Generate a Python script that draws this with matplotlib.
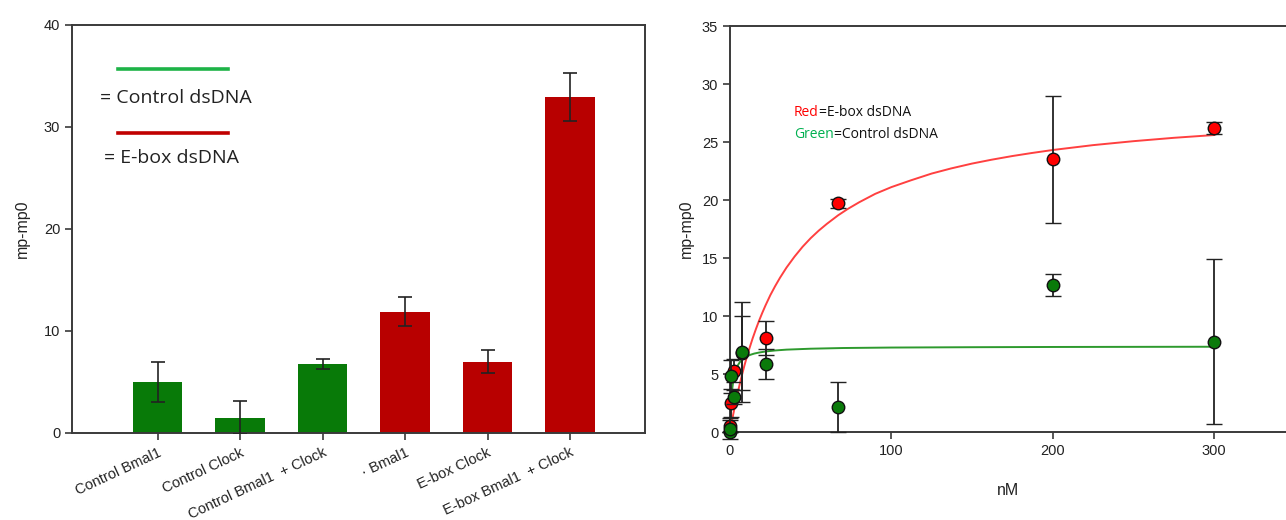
import matplotlib
matplotlib.use("Agg")
import matplotlib.pyplot as plt

# ---------------- data: left bar chart ----------------
bar_labels = ["Control Bmal1", "Control Clock", "Control Bmal1  + Clock",
              "\u00b7 Bmal1", "E-box Clock", "E-box Bmal1  + Clock"]
bar_values = [5.0, 1.5, 6.8, 11.9, 7.0, 32.9]
bar_errors = [2.0, 1.6, 0.5, 1.4, 1.15, 2.35]
bar_groups = ["control", "control", "control", "ebox", "ebox", "ebox"]

# ---------------- data: right binding plot ----------------
ebox_x = [0.27, 0.82, 2.47, 7.4, 22.2, 66.7, 200, 300]
ebox_y = [0.5, 2.5, 5.3, 6.8, 8.1, 19.7, 23.5, 26.2]
ebox_err = [0.5, 1.2, 1.0, 3.2, 1.5, 0.35, 5.45, 0.55]

ctrl_x = [0, 0.27, 0.82, 2.47, 7.4, 22.2, 66.7, 200, 300]
ctrl_y = [0.0, 0.3, 4.8, 3.0, 6.9, 5.85, 2.15, 12.65, 7.8]
ctrl_err = [0.0, 0.9, 1.4, 0.6, 4.3, 1.3, 2.15, 0.95, 7.1]

# fitted curves
ebox_fit_x = [0, 1, 2, 3, 4, 5, 6, 7, 8, 9, 10, 12, 14, 16, 18, 20, 22, 25, 28,
              31, 35, 40, 45, 50, 55, 60, 67, 73, 80, 90, 100, 112, 125, 137,
              150, 162, 175, 187, 200, 225, 250, 275, 300]
ebox_fit_y = [0, 0.78, 1.52, 2.22, 2.88, 3.51, 4.11, 4.69, 5.23, 5.76, 6.26,
              7.19, 8.06, 8.85, 9.59, 10.27, 10.91, 11.80, 12.58, 13.30, 14.17,
              15.12, 15.97, 16.71, 17.36, 17.94, 18.68, 19.23, 19.80, 20.53,
              21.11, 21.69, 22.28, 22.72, 23.14, 23.47, 23.79, 24.05, 24.31,
              24.73, 25.07, 25.36, 25.60]
ctrl_fit_x = [0, 0.25, 0.5, 0.75, 1, 1.5, 2, 2.5, 3, 4, 5, 6, 7, 8.5, 10, 12.5,
              15, 18, 22, 28, 35, 50, 70, 100, 150, 200, 250, 300]
ctrl_fit_y = [0, 1.13, 1.96, 2.60, 3.10, 3.84, 4.37, 4.76, 5.05, 5.49, 5.78,
              6.00, 6.16, 6.35, 6.49, 6.65, 6.76, 6.85, 6.94, 7.03, 7.10, 7.18,
              7.24, 7.28, 7.31, 7.33, 7.34, 7.35]

BAR_GREEN = "#087a08"
BAR_RED = "#b80000"
SPINE = "#3a3a3a"

plt.rcParams['font.family'] = ['Liberation Sans', 'DejaVu Sans']

fig = plt.figure(figsize=(12.86, 5.2), dpi=100)

# ---------------- left panel ----------------
ax1 = fig.add_axes([72/1286, 1-433/520, (645-72)/1286, (433-25)/520])
xs = list(range(len(bar_values)))
colors = [BAR_GREEN if g == "control" else BAR_RED for g in bar_groups]
ax1.bar(xs, bar_values, width=0.6, color=colors, zorder=2)
ax1.errorbar(xs, bar_values, yerr=bar_errors, fmt='none', ecolor='#222222',
             elinewidth=1.2, capsize=5, capthick=1.2, zorder=3)
ax1.set_xlim(-1.04, 5.91)
ax1.set_ylim(0, 40)
ax1.set_yticks([0, 10, 20, 30, 40])
ax1.set_xticks(xs)
ax1.set_xticklabels(bar_labels, rotation=25, ha='right', rotation_mode='anchor',
                    fontsize=10.5, color='#222222')
ax1.tick_params(axis='both', direction='out', length=5, width=1.2, color=SPINE)
ax1.tick_params(axis='y', labelsize=10.5, labelcolor='#222222')
ax1.tick_params(axis='x', pad=4)
for s in ax1.spines.values():
    s.set_color(SPINE)
    s.set_linewidth(1.4)
ax1.set_ylabel("mp-mp0", fontsize=11.5, color='#222222', labelpad=10)

# legend drawn as lines and text (figure coordinates)
fig.add_artist(plt.Line2D([118/1286, 228/1286], [1-69/520, 1-69/520],
                          color='#1db347', lw=2.6))
fig.add_artist(plt.Line2D([118/1286, 228/1286], [1-133/520, 1-133/520],
                          color='#c00000', lw=2.6))
fig.text(100/1286, 1-98/520, "= Control dsDNA", fontsize=14,
         family=['Open Sans', 'DejaVu Sans'], va='center', ha='left', color='#222222')
fig.text(104/1286, 1-158/520, "= E-box dsDNA", fontsize=14,
         family=['Open Sans', 'DejaVu Sans'], va='center', ha='left', color='#222222')

# ---------------- right panel ----------------
ax2 = fig.add_axes([730/1286, 1-432/520, (1286-730)/1286, (432-26)/520])
ax2.plot(ebox_fit_x, ebox_fit_y, color='#ff4040', lw=1.4, zorder=2)
ax2.plot(ctrl_fit_x, ctrl_fit_y, color='#2e9a2e', lw=1.4, zorder=2)
ax2.errorbar(ebox_x, ebox_y, yerr=ebox_err, fmt='o', color='#222222',
             mfc='#ff0000', mec='#111111', ms=9, mew=1.0, elinewidth=1.3,
             capsize=5.5, capthick=1.3, zorder=3, clip_on=False)
ax2.errorbar(ctrl_x, ctrl_y, yerr=ctrl_err, fmt='o', color='#222222',
             mfc='#0a7a0a', mec='#111111', ms=9, mew=1.0, elinewidth=1.3,
             capsize=5.5, capthick=1.3, zorder=4, clip_on=False)
ax2.set_xlim(0, 344.6)
ax2.set_ylim(0, 35)
ax2.set_xticks([0, 100, 200, 300])
ax2.set_yticks(range(0, 36, 5))
ax2.tick_params(axis='both', direction='out', length=5, width=1.2, color=SPINE,
                labelsize=10.5, labelcolor='#222222')
for s in ax2.spines.values():
    s.set_color(SPINE)
    s.set_linewidth(1.4)
ax2.spines['right'].set_visible(False)
ax2.set_ylabel("mp-mp0", fontsize=11.5, color='#222222', labelpad=6)
ax2.set_xlabel("nM", fontsize=11.5, color='#222222', labelpad=18)

t1 = fig.text(794/1286, 1-113/520, "Red", fontsize=10, color='#ff0000',
              family=['Open Sans', 'DejaVu Sans'], va='center', ha='left')
ax2.annotate("=E-box dsDNA", xy=(1, 0), xycoords=t1, va='bottom', ha='left',
             fontsize=10, color='#111111', family=['Open Sans', 'DejaVu Sans'])
t2 = fig.text(794/1286, 1-134/520, "Green", fontsize=10, color='#00b050',
              family=['Open Sans', 'DejaVu Sans'], va='center', ha='left')
ax2.annotate("=Control dsDNA", xy=(1, 0), xycoords=t2, va='bottom', ha='left',
             fontsize=10, color='#111111', family=['Open Sans', 'DejaVu Sans'])

fig.savefig("out.png", dpi=100)
